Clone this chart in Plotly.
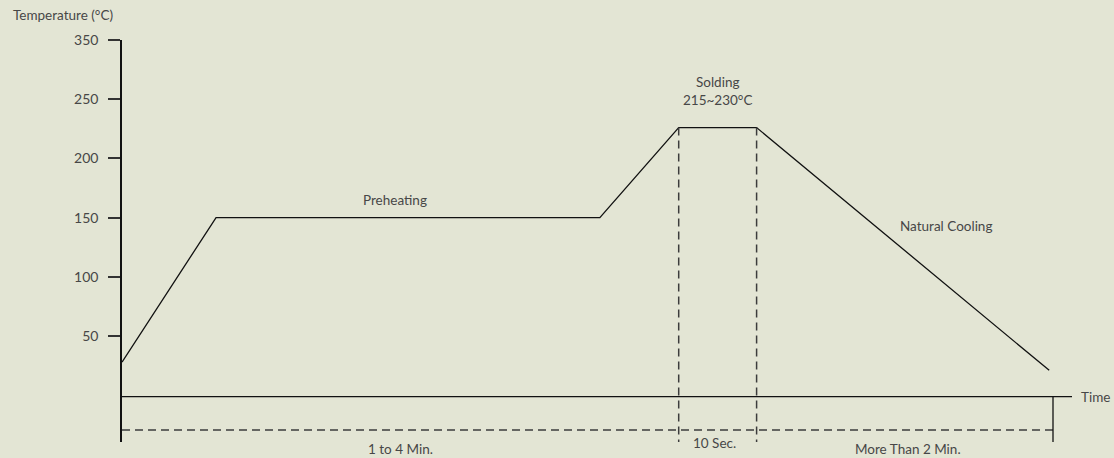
import plotly.graph_objects as go

# Reflow profile (schematic): time in relative units (0-100), temperature in axis units
profile_time = [0, 9.9, 50.3, 58.6, 66.8, 97.6]
profile_temp = [28, 150, 150, 226, 226, 21]

# Axis ticks (label "350" sits where the scale continues one step above 250)
tick_vals = [50, 100, 150, 200, 250, 300]
tick_text = ["50", "100", "150", "200", "250", "350"]

# Phase boundaries along the time axis
phase_start = 0
solder_start = 58.6
solder_end = 66.8
phase_end = 98.0
time_axis_end = 100
time_axis_level = -1.2

bracket_level = -29.4
axis_bottom = -39.5
axis_top = 300

phase_labels = ["1 to 4 Min.", "10 Sec.", "More Than 2 Min."]
phase_label_x = [29.3, 62.4, 82.7]
phase_label_shift = [-7, -1, -7]

TEXT = "#474747"
LINE = "#111111"
DASH = "#3c3c3c"
BG = "#e3e5d4"
FONT = "Lato"

fig = go.Figure()

# main profile
fig.add_trace(go.Scatter(x=profile_time, y=profile_temp, mode="lines",
                         line=dict(color=LINE, width=1.3), hoverinfo="skip"))

# time axis
fig.add_trace(go.Scatter(x=[phase_start, time_axis_end], y=[time_axis_level, time_axis_level],
                         mode="lines", line=dict(color=LINE, width=1.3), hoverinfo="skip"))

# bottom dashed bracket
fig.add_trace(go.Scatter(x=[phase_start, phase_end], y=[bracket_level, bracket_level], mode="lines",
                         line=dict(color=DASH, width=1.5, dash="8px,5px"), hoverinfo="skip"))

# dashed soldering boundaries
for xv in [solder_start, solder_end]:
    fig.add_trace(go.Scatter(x=[xv, xv], y=[226, axis_bottom], mode="lines",
                             line=dict(color=DASH, width=1.5, dash="8px,5px"), hoverinfo="skip"))

# solid end bracket
fig.add_trace(go.Scatter(x=[phase_end, phase_end], y=[time_axis_level, axis_bottom], mode="lines",
                         line=dict(color=LINE, width=1.3), hoverinfo="skip"))

annotations = [
    dict(x=28.7, y=164.9, text="Preheating", xanchor="center", yanchor="middle"),
    dict(x=62.7, y=256.8, text="Solding<br>215~230°C", xanchor="center", yanchor="middle"),
    dict(x=86.7, y=142.9, text="Natural Cooling", xanchor="center", yanchor="middle"),
    dict(x=time_axis_end, y=time_axis_level, text="Time", xanchor="left", yanchor="middle", xshift=7),
    dict(x=0, y=axis_top, text="Temperature (°C)", xanchor="left", yanchor="middle",
         xshift=-111, yshift=25),
]
for lab, lx, sh in zip(phase_labels, phase_label_x, phase_label_shift):
    annotations.append(dict(x=lx, y=axis_bottom, text=lab, xanchor="center",
                            yanchor="middle", yshift=sh))

for a in annotations:
    a.update(xref="x", yref="y", showarrow=False,
             font=dict(family=FONT, size=13.5, color=TEXT))

fig.update_layout(
    width=1114, height=458,
    paper_bgcolor=BG, plot_bgcolor=BG,
    margin=dict(l=122, r=42, t=40, b=16),
    showlegend=False,
    annotations=annotations,
    xaxis=dict(range=[0, 100], visible=False, showgrid=False, zeroline=False, fixedrange=True),
    yaxis=dict(range=[axis_bottom, axis_top], showgrid=False, zeroline=False,
               showline=True, linecolor=LINE, linewidth=1.5,
               tickmode="array", tickvals=tick_vals, ticktext=tick_text,
               ticks="outside", ticklen=12, tickwidth=1.5, tickcolor="#333333",
               ticklabelstandoff=7,
               tickfont=dict(family=FONT, size=14, color=TEXT), fixedrange=True),
)

fig.write_html("out.html", config={"displayModeBar": False},
               post_script="document.body.style.margin='0';document.body.style.background='%s';" % BG)
